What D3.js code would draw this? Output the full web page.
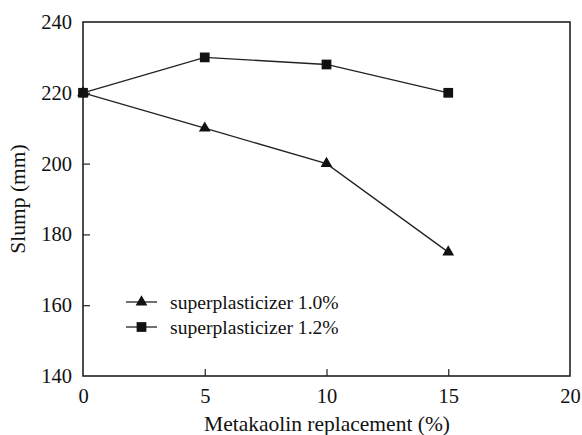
<!DOCTYPE html>
<html>
<head>
<meta charset="utf-8">
<script src="https://cdn.jsdelivr.net/npm/d3@7"></script>
<style>
  html, body { margin: 0; padding: 0; background: #fff; }
</style>
</head>
<body>
<svg id="chart" width="582" height="435"></svg>
<script>
// Metakaolin replacement levels (%)
const replacement = [0, 5, 10, 15];
// Slump (mm) for each superplasticizer dosage
const slumpSP10 = [220, 210, 200, 175];
const slumpSP12 = [220, 230, 228, 220];
const seriesNames = ["superplasticizer 1.0%", "superplasticizer 1.2%"];
const xTicks = [0, 5, 10, 15, 20];
const yTicks = [140, 160, 180, 200, 220, 240];

const FONT = "'Liberation Serif', serif";

const svg = d3.select("#chart");
const plotL = 83, plotR = 570, plotT = 22, plotB = 376;

const x = d3.scaleLinear().domain([0, 20]).range([plotL, plotR]);
const y = d3.scaleLinear().domain([140, 240]).range([plotB, plotT]);

// frame
svg.append("rect")
  .attr("x", plotL).attr("y", plotT)
  .attr("width", plotR - plotL).attr("height", plotB - plotT)
  .attr("fill", "none").attr("stroke", "#222").attr("stroke-width", 1.6);

// inward ticks
const xAxis = svg.append("g").attr("transform", `translate(0,${plotB})`)
  .call(d3.axisBottom(x).tickValues(xTicks).tickSizeInner(-7).tickSizeOuter(0).tickPadding(12));
const yAxis = svg.append("g").attr("transform", `translate(${plotL},0)`)
  .call(d3.axisLeft(y).tickValues(yTicks).tickSizeInner(-7).tickSizeOuter(0).tickPadding(11));
[xAxis, yAxis].forEach(g => {
  g.attr("font-family", FONT).attr("font-size", 20.5);
  g.select(".domain").remove();
  g.selectAll(".tick line").attr("stroke", "#222").attr("stroke-width", 1.2);
  g.selectAll("text").attr("fill", "#111");
});
xAxis.selectAll(".tick").filter(d => d === 0 || d === 20).select("line").remove();
yAxis.selectAll(".tick").filter(d => d === 140 || d === 240).select("line").remove();
xAxis.selectAll("text").attr("dy", "0.71em");

// axis titles
svg.append("text")
  .attr("x", 327).attr("y", 431)
  .attr("text-anchor", "middle")
  .attr("font-family", FONT).attr("font-size", 21.5).attr("fill", "#111")
  .text("Metakaolin replacement (%)");
svg.append("text")
  .attr("transform", `translate(25,${(plotT + plotB) / 2}) rotate(-90)`)
  .attr("text-anchor", "middle")
  .attr("font-family", FONT).attr("font-size", 21.5).attr("fill", "#111")
  .text("Slump (mm)");

const line = d3.line().x(d => x(d[0])).y(d => y(d[1]));
const triangle = d3.symbol().type(d3.symbolTriangle).size(60);
const square = d3.symbol().type(d3.symbolSquare).size(95);

const series = [
  { name: seriesNames[0], values: slumpSP10, symbol: triangle },
  { name: seriesNames[1], values: slumpSP12, symbol: square }
];

series.forEach(s => {
  const pts = replacement.map((r, i) => [r, s.values[i]]);
  svg.append("path").datum(pts)
    .attr("d", line).attr("fill", "none")
    .attr("stroke", "#222").attr("stroke-width", 1.3);
  svg.selectAll(null).data(pts).enter().append("path")
    .attr("d", s.symbol)
    .attr("transform", d => `translate(${x(d[0])},${y(d[1])})`)
    .attr("fill", "#111");
});

// legend
const legend = svg.append("g");
series.forEach((s, i) => {
  const ly = 302 + i * 25;
  legend.append("line")
    .attr("x1", 126).attr("x2", 157).attr("y1", ly).attr("y2", ly)
    .attr("stroke", "#222").attr("stroke-width", 1.3);
  legend.append("path").attr("d", s.symbol)
    .attr("transform", `translate(141.5,${ly})`).attr("fill", "#111");
  legend.append("text")
    .attr("x", 170).attr("y", ly).attr("dy", "0.35em")
    .attr("font-family", FONT).attr("font-size", 19.6).attr("fill", "#111")
    .text(s.name);
});
</script>
</body>
</html>
